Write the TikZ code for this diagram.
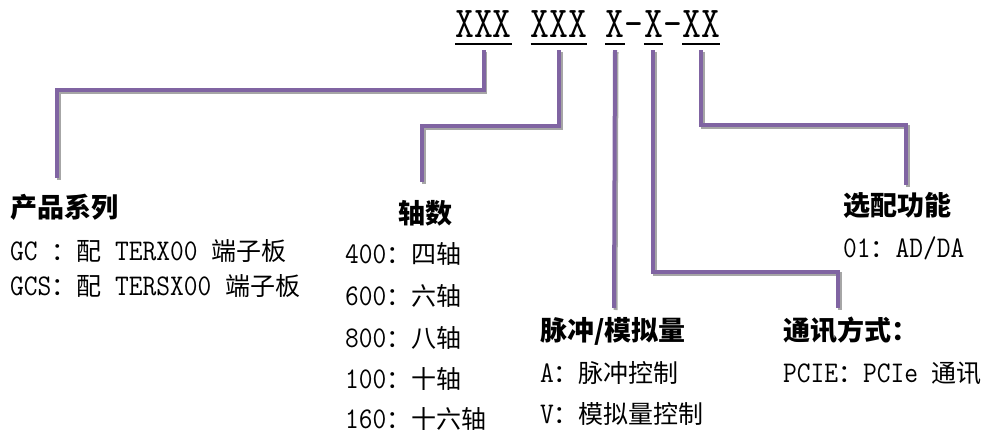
\documentclass[tikz,border=0pt]{standalone}
\usepackage{fontspec}
\setmainfont[FakeStretch=0.89]{Latin Modern Mono}
\newfontfamily\topfont[FakeStretch=0.83]{Latin Modern Mono}
\newfontfamily\cjk{Noto Sans CJK SC}
\newcommand\C[1]{{\cjk\fontsize{25pt}{30pt}\selectfont #1}}
\newcommand\Hd[1]{{\cjk\bfseries\fontsize{27pt}{30pt}\selectfont #1}}
\definecolor{vio}{HTML}{8064A2}
\tikzset{
  conn/.style={line width=4pt, draw=vio, preaction={draw=gray!70, line width=4pt, transform canvas={xshift=1.5pt,yshift=-2pt}}},
  grp/.style={font=\topfont\fontsize{44pt}{48pt}\selectfont, inner xsep=0pt, inner ysep=6pt, text depth=0pt, anchor=base},
  uline/.style={line width=1.6pt, draw=black},
  txt/.style={anchor=base west, inner sep=0pt, font=\fontsize{30pt}{32pt}\selectfont}
}
\begin{document}
\begin{tikzpicture}[x=1pt,y=-1pt]
\useasboundingbox (0,0) rectangle (986,433);
% top code
\node[grp] (g1) at (483.5,38) {XXX};
\node[grp] (g2) at (559,38) {XXX};
\node[grp] (g3) at (615,38) {X};
\node[grp] (d1) at (634.2,38) {-};
\node[grp] (g4) at (653.4,38) {X};
\node[grp] (d2) at (672.6,38) {-};
\node[grp] (g5) at (701.4,38) {XX};
\foreach \g in {g1,g2,g3,g4,g5} \draw[uline] (\g.south west) -- (\g.south east);
% free ends
\coordinate (e1) at (57,178);
\coordinate (e2) at (422,182);
\coordinate (e3) at (614,308);
\coordinate (e4) at (838,308);
\coordinate (e5) at (906,185);
% connectors
\draw[conn] ([yshift=-6pt]g1.south) -- ++(0,40) -| (e1);
\draw[conn] ([yshift=-6pt]g2.south) -- ++(0,76) -| (e2);
\draw[conn] ([yshift=-6pt]g3.south) -- (e3);
\draw[conn] ([yshift=-6pt]g4.south) -- ++(0,222) -| (e4);
\draw[conn] ([yshift=-6pt]g5.south) -- ++(0,75) -| (e5);
% product series
\node[txt] (h1) at (10,218) {\Hd{产品系列}};
\node[txt] (t11) at (10,260) {GC \C{：配} TERX00 \C{端子板}};
\node[txt] (t12) at (10,295) {GCS\C{：配} TERSX00 \C{端子板}};
% axes
\node[txt] (h2) at (398,223) {\Hd{轴数}};
\node[txt] (t21) at (345,263) {400\C{：四轴}};
\node[txt] (t22) at (345,305) {600\C{：六轴}};
\node[txt] (t23) at (345,347) {800\C{：八轴}};
\node[txt] (t24) at (345,388) {100\C{：十轴}};
\node[txt] (t25) at (345,428) {160\C{：十六轴}};
% pulse / analog
\node[txt] (h3) at (540,340) {\Hd{脉冲/模拟量}};
\node[txt] (t31) at (540,382) {A\C{：脉冲控制}};
\node[txt] (t32) at (540,423) {V\C{：模拟量控制}};
% communication
\node[txt] (h4) at (783,340) {\Hd{通讯方式：}};
\node[txt] (t41) at (783,382) {PCIE\C{：}PCIe \C{通讯}};
% options
\node[txt] (h5) at (843,215) {\Hd{选配功能}};
\node[txt] (t51) at (843,257) {01\C{：}AD/DA};
\end{tikzpicture}
\end{document}
